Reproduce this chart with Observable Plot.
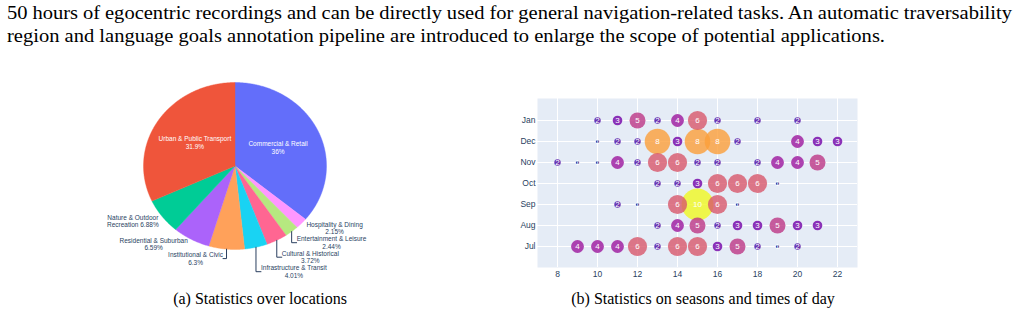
<!DOCTYPE html>
<html><head><meta charset="utf-8">
<script src="https://cdn.jsdelivr.net/npm/d3@7"></script>
<script src="https://cdn.jsdelivr.net/npm/@observablehq/plot@0.6"></script>
<style>
html,body{margin:0;padding:0;background:#fff;}
#page{position:relative;width:1019px;height:314px;overflow:hidden;background:#fff;}
.serif{position:absolute;font-family:"Liberation Serif","Times New Roman",serif;color:#000;white-space:nowrap;}
.para{left:7px;font-size:19px;line-height:21px;height:21px;transform-origin:0 0;}
.cap{font-size:16px;line-height:18px;height:18px;}
.chart{position:absolute;}
</style></head>
<body>
<div id="page">
  <div class="serif para" id="line1" style="top:2.4px">50 hours of egocentric recordings and can be directly used for general navigation-related tasks. An automatic traversability</div>
  <div class="serif para" id="line2" style="top:24.8px">region and language goals annotation pipeline are introduced to enlarge the scope of potential applications.</div>
  <div class="chart" id="pie" style="left:90px;top:70px"></div>
  <div class="chart" id="bubble" style="left:480px;top:90px"></div>
  <div class="serif cap" id="capA" style="top:289.6px">(a) Statistics over locations</div>
  <div class="serif cap" id="capB" style="top:289.6px">(b) Statistics on seasons and times of day</div>
</div>
<script>
// ---------------- data ----------------
const locations = ["Commercial & Retail","Hospitality & Dining","Entertainment & Leisure","Cultural & Historical","Infrastructure & Transit","Institutional & Civic","Residential & Suburban","Nature & Outdoor Recreation","Urban & Public Transport"];
const locationLabels = ["Commercial & Retail","Hospitality & Dining","Entertainment & Leisure","Cultural & Historical","Infrastructure & Transit","Institutional & Civic","Residential & Suburban","Nature & Outdoor\nRecreation","Urban & Public Transport"];
const locationShares = [36, 2.15, 2.44, 3.72, 4.01, 6.3, 6.59, 6.88, 31.9];
const locationColors = ["#636efa","#ff97ff","#b6e880","#ff6692","#19d3f3","#ffa15a","#ab63fa","#00cc96","#ef553b"];

const months = ["Jan","Dec","Nov","Oct","Sep","Aug","Jul"];
const hourTicks = [8,10,12,14,16,18,20,22];
const janHours = [10,11,12,13,14,15,16,18,20];           const janCounts = [2,3,5,2,4,6,2,2,2];
const decHours = [10,11,12,13,14,15,16,17,20,21,22];     const decCounts = [1,2,2,8,3,8,8,2,4,3,3];
const novHours = [8,9,10,11,12,13,14,15,16,18,19,20,21]; const novCounts = [2,1,1,4,2,6,6,2,2,2,4,4,5];
const octHours = [13,14,15,16,17,18,19];                 const octCounts = [2,2,3,6,6,6,1];
const sepHours = [11,12,14,15,16,17];                    const sepCounts = [2,1,6,10,6,1];
const augHours = [13,14,15,16,17,18,19,20,21];           const augCounts = [2,4,5,2,3,3,5,3,3];
const julHours = [9,10,11,12,13,14,15,16,17,18,19,20];   const julCounts = [4,4,4,6,2,6,6,3,5,2,1,2];

// ---------------- paper text ----------------
const l1 = document.getElementById("line1"), l2 = document.getElementById("line2");
l1.style.display = l2.style.display = "inline-block";
const sx = 878 / l2.getBoundingClientRect().width;
l2.style.transform = `scaleX(${sx})`;
{
  const natural = l1.getBoundingClientRect().width;
  const spaces = (l1.textContent.match(/ /g) || []).length;
  l1.style.wordSpacing = ((1005 / sx - natural) / spaces) + "px";
  l1.style.transform = `scaleX(${sx})`;
}
function centerAt(el, cx) {
  el.style.display = "inline-block";
  const w = el.getBoundingClientRect().width;
  el.style.left = (cx - w / 2) + "px";
}
centerAt(document.getElementById("capA"), 260);
centerAt(document.getElementById("capB"), 703);

// ---------------- pie ----------------
const P = {width: 300, height: 215, cx: 144.5, cy: 95.5, rx: 91.5, ry: 83.5};
const FONT = "Liberation Sans, Arial, Helvetica, sans-serif";
const ink = "#2a3f5f";
const total = d3.sum(locationShares);
let acc = 0;
const slices = locations.map((name, i) => {
  const f0 = acc / total; acc += locationShares[i];
  return {name, label: locationLabels[i], share: locationShares[i], f0, f1: acc / total};
});
const slicePts = slices.flatMap(s => {
  const pts = [{name: s.name, x: 0, y: 0}];
  const n = Math.max(2, Math.ceil((s.f1 - s.f0) * 720));
  for (let k = 0; k <= n; k++) {
    const a = 2 * Math.PI * (s.f0 + (s.f1 - s.f0) * k / n);
    pts.push({name: s.name, x: Math.sin(a), y: Math.cos(a)});
  }
  pts.push({name: s.name, x: 0, y: 0});
  return pts;
});
const fmtPct = v => `${v}%`;
const textOf = s => s.label.includes("\n") ? `${s.label} ${fmtPct(s.share)}` : `${s.label}\n${fmtPct(s.share)}`;
const toDX = p => (p - P.cx) / P.rx;
const toDY = p => (P.cy - p) / P.ry;
const ctx = document.createElement("canvas").getContext("2d");
const PIE_FS = 6.5;
ctx.font = `${PIE_FS}px ${FONT}`;
const blockWidth = t => d3.max(t.split("\n"), l => ctx.measureText(l).width);

const inside = slices.filter(s => s.share > 20).map(s => {
  const a = 2 * Math.PI * (s.f0 + s.f1) / 2;
  return {x: 0.52 * Math.sin(a), y: 0.52 * Math.cos(a), text: textOf(s)};
});
const outsideRaw = slices.filter(s => s.share <= 20).map(s => {
  const a = 2 * Math.PI * (s.f0 + s.f1) / 2;
  const ex = P.cx + P.rx * Math.sin(a), ey = P.cy - P.ry * Math.cos(a);
  return {s, ex, ey, side: Math.sin(a) >= 0 ? 1 : -1, natural: ey + 1, text: textOf(s)};
});
const outside = [], leaders = [];
for (const side of [1, -1]) {
  const group = outsideRaw.filter(d => d.side === side).sort((a, b) => a.ey - b.ey);
  let prev = -Infinity;
  for (const d of group) {
    const y1 = Math.max(d.natural, prev + 14.5);
    prev = y1;
    const bc = y1 + PIE_FS * 1.15 / 2;
    const w = blockWidth(d.text);
    const edge = side > 0 ? d.ex + 5 : d.ex - 3.5;
    const cxText = edge + side * w / 2;
    outside.push({x: toDX(cxText), y: toDY(bc), text: d.text});
    if (y1 - d.natural > 3) {
      leaders.push({id: d.s.name, x: toDX(d.ex), y: toDY(d.ey)});
      leaders.push({id: d.s.name, x: toDX(d.ex), y: toDY(bc)});
      leaders.push({id: d.s.name, x: toDX(edge), y: toDY(bc)});
    }
  }
}

const pie = Plot.plot({
  width: P.width, height: P.height,
  margin: 0,
  style: {fontFamily: FONT, background: "transparent", overflow: "visible"},
  x: {domain: [-1, 1], range: [P.cx - P.rx, P.cx + P.rx], axis: null},
  y: {domain: [-1, 1], range: [P.cy + P.ry, P.cy - P.ry], axis: null},
  color: {type: "ordinal", domain: locations, range: locationColors},
  marks: [
    Plot.line(slicePts, {x: "x", y: "y", z: "name", fill: "name", stroke: "name", strokeWidth: 0.4, curve: "linear-closed"}),
    Plot.line(leaders, {x: "x", y: "y", z: "id", stroke: ink, strokeWidth: 1}),
    Plot.text(inside, {x: "x", y: "y", text: "text", fill: "white", fontSize: PIE_FS, lineHeight: 1.15, lineAnchor: "middle", textAnchor: "middle"}),
    Plot.text(outside, {x: "x", y: "y", text: "text", fill: ink, fontSize: PIE_FS, lineHeight: 1.15, lineAnchor: "middle", textAnchor: "middle"})
  ]
});
document.getElementById("pie").append(pie);

// ---------------- bubbles ----------------
const rows = [
  ["Jan", janHours, janCounts], ["Dec", decHours, decCounts], ["Nov", novHours, novCounts],
  ["Oct", octHours, octCounts], ["Sep", sepHours, sepCounts], ["Aug", augHours, augCounts], ["Jul", julHours, julCounts]
];
const cells = rows.flatMap(([month, hours, counts]) => hours.map((h, i) => ({month, hour: h, count: counts[i]})));

const bubble = Plot.plot({
  width: 400, height: 200,
  marginLeft: 57, marginRight: 23, marginTop: 8, marginBottom: 23,
  style: {fontFamily: FONT, fontSize: "8.5px", color: ink, background: "transparent", overflow: "visible"},
  x: {domain: [7, 23], label: null},
  y: {type: "point", domain: months, padding: 0.92, label: null},
  r: {type: "linear", domain: [0, 10], range: [0, 16]},
  color: {type: "linear", domain: [1, 10], scheme: "plasma"},
  marks: [
    Plot.frame({fill: "#e5ecf6", stroke: null}),
    Plot.gridX(hourTicks, {stroke: "white", strokeOpacity: 1, strokeWidth: 1}),
    Plot.gridY(months, {stroke: "white", strokeOpacity: 1, strokeWidth: 1}),
    Plot.axisX(hourTicks, {tickSize: 0, tickPadding: 3, label: null, fill: ink}),
    Plot.axisY(months, {tickSize: 0, tickPadding: 2, label: null, fill: ink}),
    Plot.dot(cells, {x: "hour", y: "month", r: "count", fill: "count", fillOpacity: 0.8, stroke: null}),
    Plot.text(cells, {x: "hour", y: "month", text: "count", fill: "white", fontSize: 8})
  ]
});
document.getElementById("bubble").append(bubble);
</script>
</body></html>
